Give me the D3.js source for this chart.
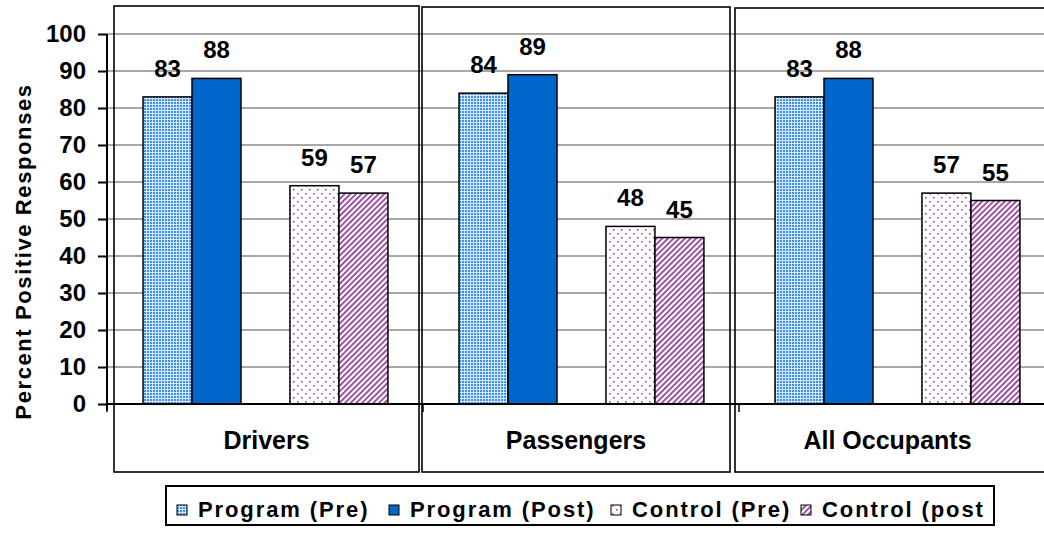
<!DOCTYPE html>
<html>
<head>
<meta charset="utf-8">
<script src="https://cdn.jsdelivr.net/npm/d3@7/dist/d3.min.js"></script>
<style>
  html, body { margin: 0; padding: 0; background: #fff; }
  svg { display: block; }
  text { font-family: "Liberation Sans", Arial, sans-serif; font-weight: bold; fill: #000; }
</style>
</head>
<body>
<svg id="chart" width="1044" height="533"></svg>
<script>
// ---- data ----
const categories = ["Drivers", "Passengers", "All Occupants"];
const seriesNames = ["Program (Pre)", "Program (Post)", "Control (Pre)", "Control (post"];
const programPre  = [83, 84, 83];
const programPost = [88, 89, 88];
const controlPre  = [59, 48, 57];
const controlPost = [57, 45, 55];
const yTicks = [0, 10, 20, 30, 40, 50, 60, 70, 80, 90, 100];
const yTitle = "Percent Positive Responses";

const seriesValues = [programPre, programPost, controlPre, controlPost];
const slotOrder = ["Program (Pre)", "Program (Post)", "spacer", "Control (Pre)", "Control (post"];

// ---- setup ----
const svg = d3.select("#chart");
const W = 1044, H = 533;
const axisX = 107, zeroY = 404, topY = 34;

const x = d3.scaleBand().domain(categories).range([axisX, axisX + 948]).padding(0);
const bw = x.bandwidth();
const inner = d3.scaleBand().domain(slotOrder).range([bw * 0.114, bw * 0.889]).padding(0);
const y = d3.scaleLinear().domain([0, 100]).range([zeroY, topY]);

// ---- patterns ----
const defs = svg.append("defs");
const p1 = defs.append("pattern").attr("id", "pPre").attr("patternUnits", "userSpaceOnUse")
  .attr("width", 3).attr("height", 3);
p1.append("rect").attr("width", 3).attr("height", 3).attr("fill", "#d4e8fb");
p1.append("rect").attr("width", 2).attr("height", 2).attr("fill", "#3f90e6");

const p3 = defs.append("pattern").attr("id", "cPre").attr("patternUnits", "userSpaceOnUse")
  .attr("width", 8).attr("height", 8);
p3.append("rect").attr("width", 8).attr("height", 8).attr("fill", "#fff");
p3.append("rect").attr("x", 1).attr("y", 1).attr("width", 1.6).attr("height", 1.6).attr("fill", "#b23cb2");
p3.append("rect").attr("x", 5).attr("y", 5).attr("width", 1.6).attr("height", 1.6).attr("fill", "#b23cb2");

const p4 = defs.append("pattern").attr("id", "cPost").attr("patternUnits", "userSpaceOnUse")
  .attr("width", 4).attr("height", 4).attr("patternTransform", "rotate(45)");
p4.append("rect").attr("width", 4).attr("height", 4).attr("fill", "#fff");
p4.append("rect").attr("x", 0).attr("y", 0).attr("width", 1.7).attr("height", 4).attr("fill", "#8f3596");

const fills = {
  "Program (Pre)": "url(#pPre)",
  "Program (Post)": "#0066cc",
  "Control (Pre)": "url(#cPre)",
  "Control (post": "url(#cPost)"
};

// ---- gridlines ----
svg.append("g").selectAll("line").data(yTicks.filter(t => t > 0)).join("line")
  .attr("x1", axisX).attr("x2", W)
  .attr("y1", d => y(d)).attr("y2", d => y(d))
  .attr("stroke", "#a8a8a8").attr("stroke-width", 2);

// ---- panel boxes ----
const boxInset = [7, -1, -4];
const boxShrink = [11, 8, -20];
svg.append("g").selectAll("rect").data(categories).join("rect")
  .attr("x", (d, i) => x(d) + boxInset[i])
  .attr("y", (d, i) => 6 + i)
  .attr("width", (d, i) => bw - boxShrink[i])
  .attr("height", (d, i) => 466 - i)
  .attr("fill", "none").attr("stroke", "#000").attr("stroke-width", 1.6);

// ---- bars ----
const barData = [];
categories.forEach((c, ci) => {
  seriesNames.forEach((s, si) => {
    barData.push({ cat: c, series: s, value: seriesValues[si][ci] });
  });
});

svg.append("g").selectAll("rect").data(barData).join("rect")
  .attr("x", d => x(d.cat) + inner(d.series))
  .attr("y", d => y(d.value))
  .attr("width", inner.bandwidth())
  .attr("height", d => zeroY - y(d.value))
  .attr("fill", d => fills[d.series])
  .attr("stroke", "#000").attr("stroke-width", 1.5);

// value labels
svg.append("g").selectAll("text").data(barData).join("text")
  .attr("x", d => x(d.cat) + inner(d.series) + inner.bandwidth() / 2)
  .attr("y", d => y(d.value) - 20)
  .attr("text-anchor", "middle")
  .style("font-size", "24px")
  .text(d => d.value);

// ---- axes ----
svg.append("line").attr("x1", axisX - 1).attr("x2", W).attr("y1", zeroY).attr("y2", zeroY)
  .attr("stroke", "#000").attr("stroke-width", 2);
svg.append("g").selectAll("line").data(categories).join("line")
  .attr("x1", d => x(d)).attr("x2", d => x(d))
  .attr("y1", zeroY).attr("y2", zeroY + 8)
  .attr("stroke", "#000").attr("stroke-width", 1.5);

const yAxis = d3.axisLeft(y).tickValues(yTicks).tickSize(9).tickPadding(12).tickSizeOuter(0);
const gy = svg.append("g").attr("transform", `translate(${axisX},0)`).call(yAxis);
gy.select(".domain").attr("stroke", "#000").attr("stroke-width", 2)
  .attr("d", `M0,${topY}V${zeroY + 6}`);
gy.selectAll(".tick line").attr("stroke", "#000").attr("stroke-width", 2);
gy.selectAll(".tick text").style("font-size", "24px")
  .style("font-family", '"Liberation Sans", Arial, sans-serif').style("font-weight", "bold")
  .attr("fill", "#000");

svg.append("text")
  .attr("transform", `translate(31,${(83 + 420) / 2}) rotate(-90)`)
  .attr("text-anchor", "middle")
  .style("font-size", "22px").style("letter-spacing", "1.6px")
  .text(yTitle);

svg.append("g").selectAll("text").data(categories).join("text")
  .attr("x", (d, i) => x(d) + boxInset[i] + (i === 2 ? (bw - 11) : (bw - boxShrink[i])) / 2)
  .attr("y", 449)
  .attr("text-anchor", "middle")
  .style("font-size", "25px")
  .text(d => d);

// ---- legend ----
const legend = svg.append("g");
legend.append("rect").attr("x", 166).attr("y", 486).attr("width", 828).attr("height", 39)
  .attr("fill", "#fff").attr("stroke", "#000").attr("stroke-width", 2);
const legX = [177, 389, 611, 801];
const items = legend.selectAll("g.item").data(seriesNames).join("g").attr("class", "item")
  .attr("transform", (d, i) => `translate(${legX[i]},0)`);
items.append("rect").attr("x", 0).attr("y", 505).attr("width", 10).attr("height", 10)
  .attr("fill", d => fills[d]).attr("stroke", "#000").attr("stroke-width", 1);
items.append("text").attr("x", 21).attr("y", 517)
  .style("font-size", "22px").style("letter-spacing", "1.9px")
  .text(d => d);
</script>
</body>
</html>
